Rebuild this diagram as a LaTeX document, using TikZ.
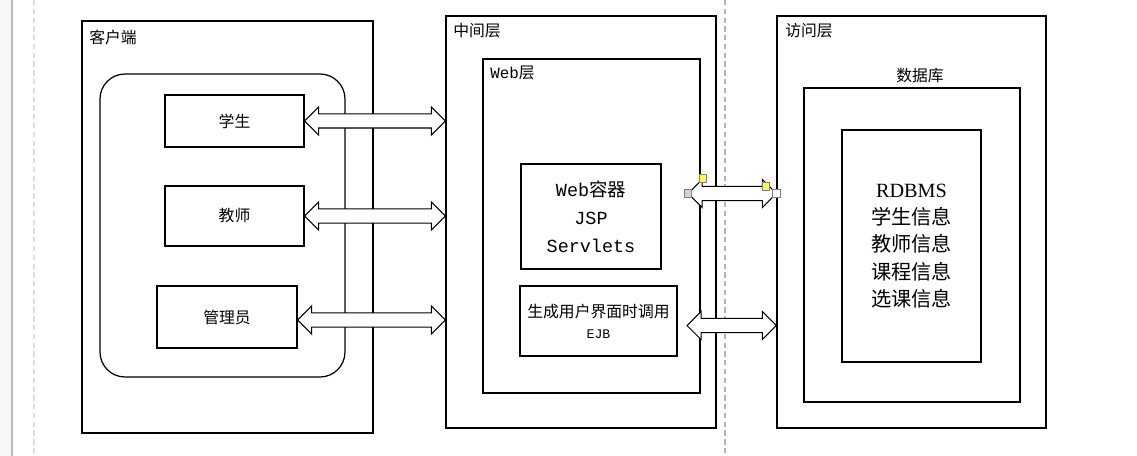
\documentclass[tikz,border=0pt]{standalone}
\usepackage{fontspec}
\setmainfont{Noto Sans CJK SC}
\newfontfamily\latinmono{Liberation Mono}
\newfontfamily\latinserif{Liberation Serif}
\usetikzlibrary{fit,calc}

\tikzset{
    box/.style={draw, line width=0.7pt, inner sep=0pt},
    roundbox/.style={box, rounded corners=0.5cm},
    lbl/.style={anchor=west, inner sep=0pt, font=\fontsize{9}{11}\selectfont},
    txt/.style={inner sep=0pt, align=center, font=\fontsize{9}{11}\selectfont},
    bigtxt/.style={inner sep=0pt, align=center, font=\fontsize{11.5}{15.5}\selectfont},
    blockarrow/.style={draw, fill=white, line width=0.6pt, line join=miter},
    handle/.style={draw=gray, line width=0.4pt, minimum size=4.2pt, inner sep=0pt},
    pagedash/.style={draw=gray!60, line width=0.6pt, dash pattern=on 3pt off 2pt},
}

% double block arrow between two points at the height of the first
\newcommand{\blockarrow}[2]{%
    \draw[blockarrow] let \p1=(#1), \p2=(#2) in
        (\x1,\y1) -- (\x1+8pt,\y1+8pt) -- (\x1+8pt,\y1+4pt) -- (\x2-8pt,\y1+4pt)
        -- (\x2-8pt,\y1+8pt) -- (\x2,\y1) -- (\x2-8pt,\y1-8pt) -- (\x2-8pt,\y1-4pt)
        -- (\x1+8pt,\y1-4pt) -- (\x1+8pt,\y1-8pt) -- cycle;}

\begin{document}
\begin{tikzpicture}[x=0.02cm, y=-0.02cm]
    \useasboundingbox (0,0) rectangle (1137,456);
    % page edge and page breaks
    \fill[gray!6] (0,0) rectangle (12,456);
    \draw[gray!55, line width=0.8pt] (12,0) -- (12,456);
    \draw[gray!25, line width=0.6pt, dash pattern=on 3pt off 2pt] (34,0) -- (34,456);
    \draw[pagedash] (725,0) -- (725,456);

    % client
    \node[box, fit={(82,21) (373,433)}] (client) {};
    \node[lbl] (clientlbl) at (89,37) {客户端};
    \node[roundbox, fit={(100,74) (345,377)}] (users) {};
    \node[box, fit={(165,95) (304,147)}] (stu) {};
    \node[txt] (stulbl) at (stu.center) {学生};
    \node[box, fit={(165,186) (304,246)}] (tea) {};
    \node[txt] (tealbl) at (tea.center) {教师};
    \node[box, fit={(157,286) (297,348)}] (adm) {};
    \node[txt] (admlbl) at (adm.center) {管理员};

    % middle tier
    \node[box, fit={(446,16) (716,428)}] (mid) {};
    \node[lbl] (midlbl) at (453,31) {中间层};
    \node[box, fit={(483,59) (700,393)}] (web) {};
    \node[lbl] (weblbl) at (490,73) {{\latinmono Web}层};
    \node[box, fit={(521,164) (661,269)}] (cont) {};
    \node[bigtxt, font=\fontsize{10.5}{16}\selectfont] (contlbl) at (cont.center)
        {{\latinmono Web}容器\\{\latinmono JSP}\\{\latinmono Servlets}};
    \node[box, fit={(520,286) (677,356)}] (gen) {};
    \node[txt, font=\fontsize{9}{12}\selectfont] (genlbl) at (gen.center)
        {生成用户界面时调用\\{\latinmono\fontsize{7.5}{9}\selectfont EJB}};

    % access tier
    \node[box, fit={(777,16) (1046,428)}] (acc) {};
    \node[lbl] (acclbl) at (785,31) {访问层};
    \node[txt] (dblbl) at (920,76) {数据库};
    \node[box, fit={(804,88) (1020,402)}] (db) {};
    \node[box, fit={(842,130) (981,362)}] (rdb) {};
    \node[bigtxt] (rdblbl) at (rdb.center)
        {{\latinserif RDBMS}\\学生信息\\教师信息\\课程信息\\选课信息};

    % arrows
    \blockarrow{stu.east}{stu.east -| mid.west}
    \blockarrow{tea.east}{tea.east -| mid.west}
    \blockarrow{$(adm.east)+(0,3)$}{$(adm.east -| mid.west)+(0,3)$}
    \coordinate (upl) at (688,193.5);
    \coordinate (lol) at (687,325.5);
    \blockarrow{upl}{upl -| acc.west}
    \blockarrow{lol}{lol -| acc.west}

    % selection handles
    \node[handle, fill=yellow!65] (h1) at (703,178.5) {};
    \node[handle, fill=yellow!65] (h2) at (766,186.5) {};
    \node[handle, fill=gray!35] (h3) at (upl) {};
    \node[handle, fill=white] (h4) at (upl -| acc.west) {};
\end{tikzpicture}
\end{document}
